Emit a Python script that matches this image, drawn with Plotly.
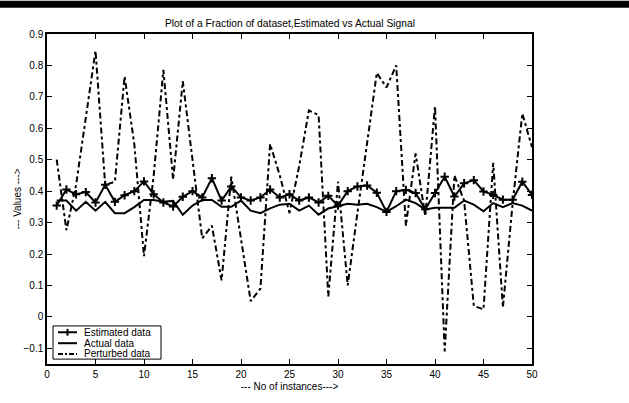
import plotly.graph_objects as go

x_vals = list(range(1, 51))

estimated = [0.354, 0.405, 0.390, 0.397, 0.364, 0.420, 0.366, 0.387, 0.400, 0.431,
             0.390, 0.364, 0.351, 0.382, 0.400, 0.380, 0.441, 0.370, 0.415, 0.380,
             0.370, 0.380, 0.405, 0.380, 0.390, 0.370, 0.380, 0.364, 0.385, 0.354,
             0.400, 0.415, 0.418, 0.395, 0.334, 0.400, 0.404, 0.394, 0.342, 0.394,
             0.446, 0.383, 0.425, 0.435, 0.399, 0.388, 0.373, 0.373, 0.430, 0.388]

actual = [0.370, 0.370, 0.338, 0.366, 0.338, 0.366, 0.330, 0.330, 0.349, 0.372,
          0.372, 0.366, 0.369, 0.325, 0.354, 0.372, 0.372, 0.350, 0.350, 0.370,
          0.338, 0.330, 0.345, 0.357, 0.360, 0.338, 0.354, 0.325, 0.345, 0.353,
          0.360, 0.357, 0.360, 0.349, 0.334, 0.352, 0.373, 0.362, 0.342, 0.347,
          0.347, 0.347, 0.370, 0.357, 0.336, 0.362, 0.349, 0.362, 0.354, 0.338]

perturbed = [0.500, 0.276, 0.420, 0.630, 0.847, 0.420, 0.430, 0.765, 0.550, 0.193,
             0.450, 0.786, 0.437, 0.750, 0.500, 0.250, 0.290, 0.116, 0.446, 0.250,
             0.050, 0.090, 0.550, 0.450, 0.330, 0.480, 0.657, 0.642, 0.065, 0.430,
             0.100, 0.330, 0.550, 0.776, 0.730, 0.800, 0.290, 0.520, 0.320, 0.670,
             -0.110, 0.450, 0.370, 0.035, 0.024, 0.490, 0.030, 0.360, 0.647, 0.540]

series_names = ["Estimated data", "Actual data", "Perturbed data"]

x_ticks = [0, 5, 10, 15, 20, 25, 30, 35, 40, 45, 50]
y_ticks = [-0.1, 0, 0.1, 0.2, 0.3, 0.4, 0.5, 0.6, 0.7, 0.8, 0.9]
y_tick_text = ["\u22120.1", "0", "0.1", "0.2", "0.3", "0.4", "0.5", "0.6", "0.7", "0.8", "0.9"]

font_family = "Liberation Sans, Arial, sans-serif"
W, H = 629, 403
ML, MR, MT, MB = 47, 97, 34, 31
PW, PH = W - ML - MR, H - MT - MB
DASH = "6px,3px,3px,3px"


def px2x(px):
    return (px - ML) / PW


def py2y(py):
    return (H - MB - py) / PH


fig = go.Figure()
fig.add_trace(go.Scatter(
    x=x_vals, y=estimated, mode="lines+markers", name=series_names[0],
    line=dict(color="black", width=2),
    marker=dict(symbol="cross-thin", size=6, line=dict(color="black", width=2)),
))
fig.add_trace(go.Scatter(
    x=x_vals, y=actual, mode="lines", name=series_names[1],
    line=dict(color="black", width=2),
))
fig.add_trace(go.Scatter(
    x=x_vals, y=perturbed, mode="lines", name=series_names[2],
    line=dict(color="black", width=2, dash=DASH),
))

axis_common = dict(
    showline=True, linecolor="black", linewidth=1.5, mirror="ticks",
    ticks="inside", ticklen=5, tickcolor="black", tickwidth=1,
    showgrid=False, zeroline=False,
    tickfont=dict(family=font_family, size=10, color="black"),
)

# legend drawn as a boxed key in the lower-left corner
shapes = [dict(type="rect", xref="paper", yref="paper",
               x0=-0.2, x1=1.4, y0=py2y(7), y1=py2y(0),
               fillcolor="black", line=dict(width=0), layer="above")]
shapes.append(dict(type="rect", xref="paper", yref="paper",
                   x0=px2x(53), x1=px2x(161), y0=py2y(367), y1=py2y(333),
                   fillcolor="white", line=dict(color="black", width=1), layer="above"))
row_y = [339.5, 350.7, 361.7]
line_styles = [dict(color="black", width=2), dict(color="black", width=2),
               dict(color="black", width=2, dash="5px,2px,2px,2px")]
annotations = []
for name, ry, ls in zip(series_names, row_y, line_styles):
    shapes.append(dict(type="line", xref="paper", yref="paper",
                       x0=px2x(58), x1=px2x(77), y0=py2y(ry), y1=py2y(ry),
                       line=ls, layer="above"))
    annotations.append(dict(text=name, xref="paper", yref="paper",
                            x=px2x(82), y=py2y(ry), xanchor="left", yanchor="middle",
                            showarrow=False,
                            font=dict(family=font_family, size=10, color="black")))
# "+" marker sample on the first row
shapes.append(dict(type="line", xref="paper", yref="paper",
                   x0=px2x(67.5), x1=px2x(67.5), y0=py2y(row_y[0] - 3.5), y1=py2y(row_y[0] + 3.5),
                   line=dict(color="black", width=2), layer="above"))

fig.update_layout(
    width=W, height=H,
    margin=dict(l=ML, r=MR, t=MT, b=MB),
    paper_bgcolor="white", plot_bgcolor="white",
    title=dict(text="Plot of a Fraction of dataset,Estimated vs Actual Signal",
               x=290 / W, xanchor="center",
               y=1 - 23 / H, yanchor="middle",
               font=dict(family=font_family, size=10.3, color="black")),
    xaxis=dict(range=[0, 50], tickvals=x_ticks,
               title=dict(text="--- No of instances--->", standoff=4,
                          font=dict(family=font_family, size=10, color="black")),
               **axis_common),
    yaxis=dict(range=[-0.15, 0.9], tickvals=y_ticks, ticktext=y_tick_text,
               title=dict(text="--- Values --->", standoff=0,
                          font=dict(family=font_family, size=10, color="black")),
               **axis_common),
    showlegend=False,
    shapes=shapes,
    annotations=annotations,
)

fig.write_html("out.html")
